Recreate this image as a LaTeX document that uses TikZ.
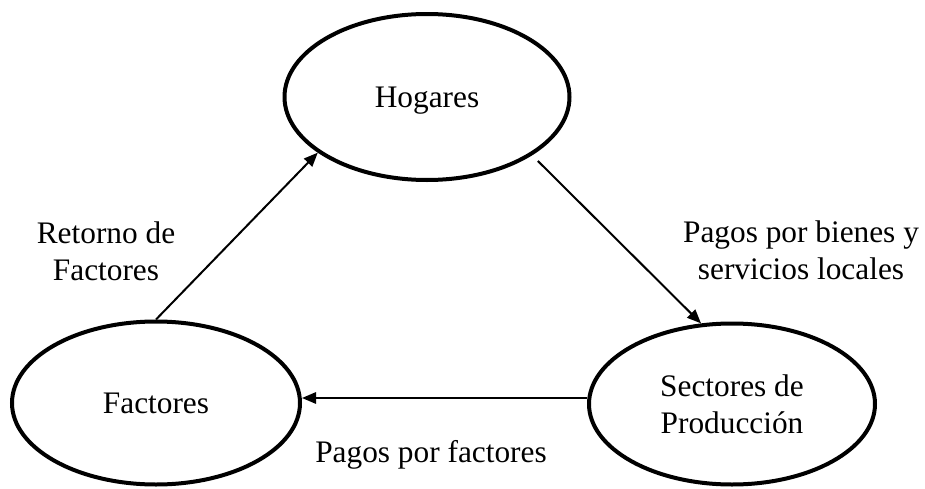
\documentclass[tikz,border=0pt]{standalone}
\usepackage{fontspec}
\setmainfont{Liberation Serif}
\usetikzlibrary{arrows.meta,shapes.geometric}
\begin{document}
\begin{tikzpicture}[x=0.75pt,y=-0.75pt,
  every node/.style={font=\fontsize{23.5pt}{27.75pt}\selectfont},
  oval/.style={ellipse,draw,line width=3pt,inner sep=0pt,align=center},
  arr/.style={line width=1.5pt,-{Triangle[length=10.5pt,width=8.5pt]}},
  lbl/.style={align=center,inner sep=0pt}]
\useasboundingbox (0,0) rectangle (925,489);
\node[oval,minimum width=213.75pt,minimum height=124.5pt,text depth=0pt] (hog) at (427,97) {Hogares};
\node[oval,minimum width=216pt,minimum height=122.25pt] (fac) at (156,403) {Factores};
\node[oval,minimum width=214.5pt,minimum height=120.75pt] (sec) at (732,404) {Sectores de\\Producción};
\node[lbl] (l1) at (106,251) {Retorno de\\Factores};
\node[lbl] (l2) at (801,250) {Pagos por bienes y\\servicios locales};
\node[lbl,anchor=base] (l3) at (431,462) {Pagos por factores};
\draw[arr] (fac.north) -- (hog.207);
\draw[arr,shorten <=6pt] (hog.-29) -- (sec.111);
\draw[arr] ([yshift=4.5pt]sec.west) -- ([yshift=3.75pt]fac.east);
\end{tikzpicture}
\end{document}
